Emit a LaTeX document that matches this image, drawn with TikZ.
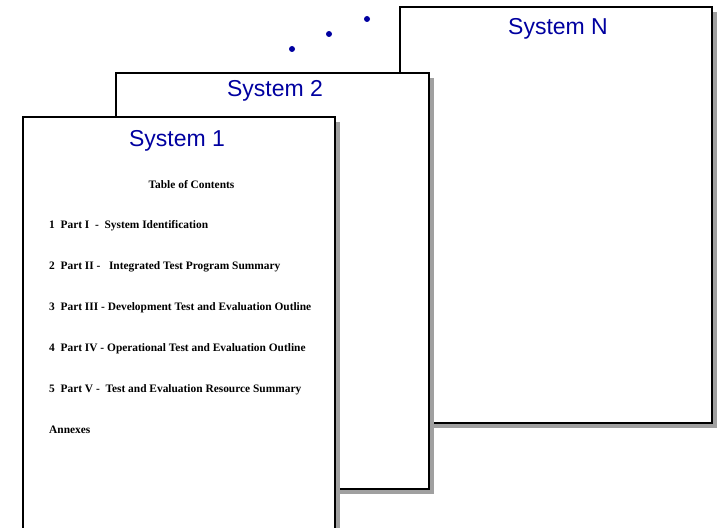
\documentclass[tikz,border=0pt]{standalone}
\usepackage{fontspec}
\setmainfont{Liberation Serif}
\newfontfamily\titlefont{Liberation Sans}
\usetikzlibrary{shadows}
\definecolor{titleblue}{RGB}{0,0,160}
\definecolor{shadowgrey}{RGB}{160,160,160}
\begin{document}
\begin{tikzpicture}[x=1pt,y=-1pt,
  sheet/.style={rectangle, draw=black, line width=2pt, fill=white,
    anchor=north west, inner sep=0pt, outer sep=0pt,
    minimum width=312.5pt, minimum height=416pt,
    drop shadow={shadow xshift=5pt, shadow yshift=-5pt, fill=shadowgrey, opacity=1}},
  systitle/.style={anchor=base, text=titleblue, inner sep=0pt,
    font=\titlefont\fontsize{23}{27}\selectfont},
  tochead/.style={anchor=base, inner sep=0pt,
    font=\bfseries\fontsize{11.4}{13}\selectfont},
  tocline/.style={anchor=base west, inner sep=0pt,
    font=\bfseries\fontsize{11.4}{13}\selectfont},
  ellipsisdot/.style={circle, fill=titleblue, inner sep=0pt, minimum size=6pt}]
\useasboundingbox (0,0) rectangle (722,527);
\clip (0,0) rectangle (722,527);

% stacked system documents, back to front
\node[sheet] (sysN) at (399.5,7) {};
\node[sheet] (sys2) at (116,73) {};
\node[sheet] (sys1) at (22.5,117) {};

% page headings
\node[systitle] (titleN) at (558,35) {System N};
\node[systitle] (title2) at (275,96.5) {System 2};
\node[systitle] (title1) at (177,146.5) {System 1};

% ellipsis between the second and the last document
\node[ellipsisdot] (dotA) at (292,49) {};
\node[ellipsisdot] (dotB) at (329,34) {};
\node[ellipsisdot] (dotC) at (367,19) {};

% table of contents on the front page
\node[tochead] (toc) at (191.5,188) {Table of Contents};
\node[tocline] (part1) at (49,228.5) {1~~Part I~~-~~System Identification};
\node[tocline] (part2) at (49,269.5) {2~~Part II -~~~Integrated Test Program Summary};
\node[tocline] (part3) at (49,310.5) {3~~Part III - Development Test and Evaluation Outline};
\node[tocline] (part4) at (49,351.5) {4~~Part IV - Operational Test and Evaluation Outline};
\node[tocline] (part5) at (49,392.5) {5~~Part V -~~Test and Evaluation Resource Summary};
\node[tocline] (annex) at (49,433.5) {Annexes};
\end{tikzpicture}
\end{document}
